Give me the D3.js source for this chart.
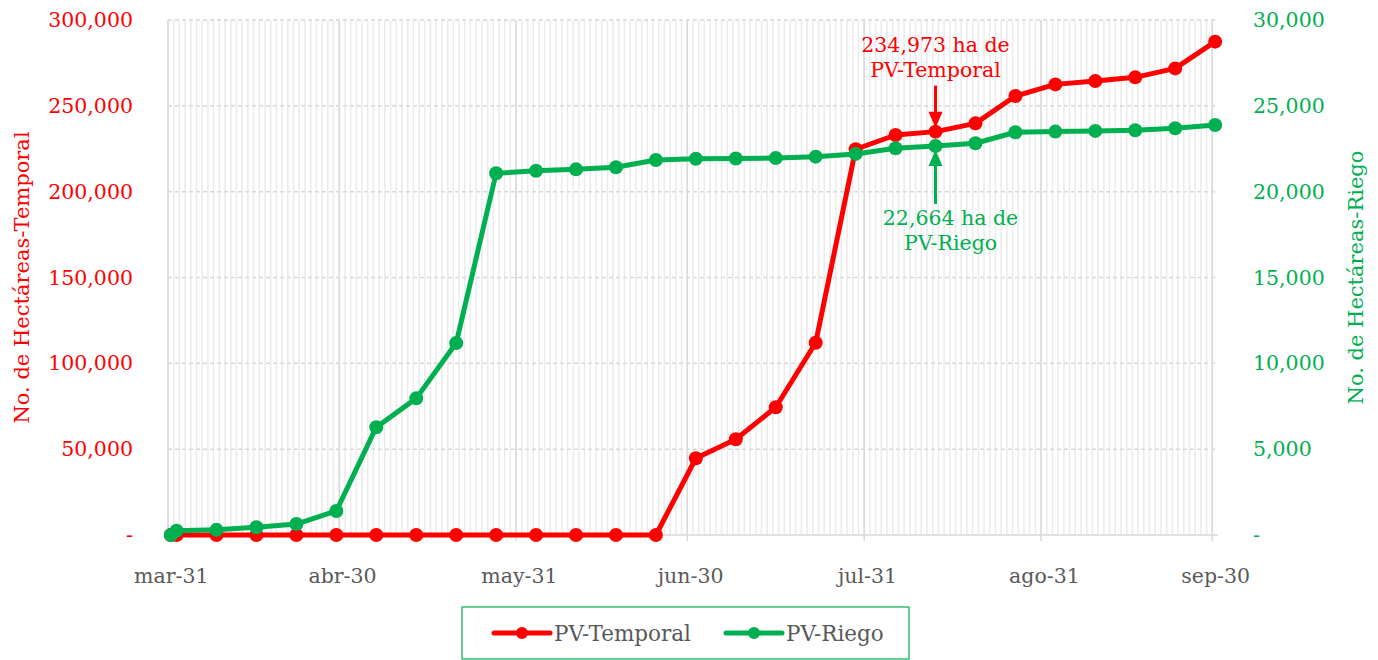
<!DOCTYPE html>
<html>
<head>
<meta charset="utf-8">
<script src="https://cdn.jsdelivr.net/npm/d3@7"></script>
<style>
  body { margin: 0; background: #fff; }
  svg { font-family: "DejaVu Serif", serif; }
</style>
</head>
<body>
<div id="chart"></div>
<script>
// fechas de corte (semanales)
var fechas = ['2020-03-31','2020-04-01','2020-04-08','2020-04-15','2020-04-22','2020-04-29',
  '2020-05-06','2020-05-13','2020-05-20','2020-05-27','2020-06-03','2020-06-10','2020-06-17',
  '2020-06-24','2020-07-01','2020-07-08','2020-07-15','2020-07-22','2020-07-29','2020-08-05',
  '2020-08-12','2020-08-19','2020-08-26','2020-09-02','2020-09-09','2020-09-16','2020-09-23',
  '2020-09-30'];

var temporal = [0, 0, 0, 0, 0, 0, 0, 0, 0, 0, 0, 0, 0, 0,
  44700, 55800, 74400, 112000, 224700, 233000, 234973, 239800, 255700, 262500,
  264500, 266600, 271800, 287400];

var riego = [0, 250, 300, 450, 640, 1400, 6280, 7960, 11180, 21070, 21220, 21300, 21420,
  21845, 21920, 21930, 21960, 22040, 22200, 22530, 22664, 22820, 23460, 23500,
  23540, 23575, 23690, 23880];

var tickFechas = ['2020-03-31','2020-04-30','2020-05-31','2020-06-30','2020-07-31','2020-08-31','2020-09-30'];
var tickLabels = ['mar-31','abr-30','may-31','jun-30','jul-31','ago-31','sep-30'];

var series = [
  {name: 'PV-Temporal', values: temporal, color: '#ff0000', axis: 'left'},
  {name: 'PV-Riego', values: riego, color: '#00b050', axis: 'right'}
];

var width = 1378, height = 660,
  margin = {left: 168, right: 160, top: 20, bottom: 125};

var parse = d3.timeParse('%Y-%m-%d');
var mid = function(d) { return d3.timeHour.offset(d, 12); };

var svg = d3.select('#chart').append('svg')
  .attr('width', width)
  .attr('height', height);

var start = parse(fechas[0]);
var end = d3.timeDay.offset(parse(fechas[fechas.length - 1]), 1);

var x = d3.scaleTime()
  .domain([start, end])
  .range([margin.left, width - margin.right]);

var yL = d3.scaleLinear().domain([0, 300000]).range([height - margin.bottom, margin.top]);
var yR = d3.scaleLinear().domain([0, 30000]).range([height - margin.bottom, margin.top]);

var fmt = d3.format(',');

// rejilla diaria
svg.append('g').selectAll('line')
  .data(d3.timeDay.range(start, end))
  .enter().append('line')
  .attr('x1', function(d) { return x(d); })
  .attr('x2', function(d) { return x(d); })
  .attr('y1', yL(300000))
  .attr('y2', yL(0))
  .attr('stroke', '#ececec')
  .attr('stroke-width', 1.6);

// rejilla horizontal
svg.append('g').selectAll('line')
  .data(yL.ticks(6).filter(function(d) { return d > 0; }))
  .enter().append('line')
  .attr('x1', x.range()[0])
  .attr('x2', x.range()[1])
  .attr('y1', function(d) { return yL(d); })
  .attr('y2', function(d) { return yL(d); })
  .attr('stroke', '#d9d9d9')
  .attr('stroke-width', 1.5)
  .attr('stroke-dasharray', '4,3');

// rejilla mensual
svg.append('g').selectAll('line')
  .data(tickFechas.map(parse))
  .enter().append('line')
  .attr('x1', function(d) { return x(d); })
  .attr('x2', function(d) { return x(d); })
  .attr('y1', yL(300000))
  .attr('y2', yL(0) + 6)
  .attr('stroke', '#d9d9d9')
  .attr('stroke-width', 1.5);

svg.append('line')
  .attr('x1', x.range()[0]).attr('x2', x.range()[1])
  .attr('y1', yL(0)).attr('y2', yL(0))
  .attr('stroke', '#d9d9d9')
  .attr('stroke-width', 1.5);

// eje x
var xAxis = svg.append('g')
  .attr('transform', 'translate(0,' + yL(0) + ')')
  .call(d3.axisBottom(x)
    .tickValues(tickFechas.map(function(f) { return mid(parse(f)); }))
    .tickFormat(function(d, i) { return tickLabels[i]; })
    .tickSize(0)
    .tickPadding(33));
xAxis.select('.domain').remove();
xAxis.selectAll('text')
  .attr('fill', '#595959')
  .style('font-size', '20.5px')
  .style('font-family', '"DejaVu Serif", serif');

// ejes y
function yFormat(d) { return d === 0 ? '-' : fmt(d); }

var leftAxis = svg.append('g')
  .attr('transform', 'translate(' + (margin.left - 32) + ',0)')
  .call(d3.axisLeft(yL).ticks(6).tickFormat(yFormat).tickSize(0));
leftAxis.select('.domain').remove();
leftAxis.selectAll('text')
  .attr('fill', '#ff0000')
  .style('font-size', '20.5px')
  .style('font-family', '"DejaVu Serif", serif');

var rightAxis = svg.append('g')
  .attr('transform', 'translate(' + (width - margin.right + 32) + ',0)')
  .call(d3.axisRight(yR).ticks(6).tickFormat(yFormat).tickSize(0));
rightAxis.select('.domain').remove();
rightAxis.selectAll('text')
  .attr('fill', '#00b050')
  .style('font-size', '20.5px')
  .style('font-family', '"DejaVu Serif", serif');

// titulos de ejes
svg.append('text')
  .attr('transform', 'translate(29,' + yL(150000) + ') rotate(-90)')
  .attr('text-anchor', 'middle')
  .attr('fill', '#ff0000')
  .style('font-size', '21px')
  .text('No. de Hectáreas-Temporal');

svg.append('text')
  .attr('transform', 'translate(1363,' + yL(150000) + ') rotate(-90)')
  .attr('text-anchor', 'middle')
  .attr('fill', '#00b050')
  .style('font-size', '21px')
  .text('No. de Hectáreas-Riego');

// series
series.forEach(function(s) {
  var y = s.axis === 'left' ? yL : yR;
  var pts = fechas.map(function(f, i) { return {date: mid(parse(f)), value: s.values[i]}; });
  var line = d3.line()
    .x(function(d) { return x(d.date); })
    .y(function(d) { return y(d.value); });
  var g = svg.append('g');
  g.append('path')
    .datum(pts)
    .attr('d', line)
    .attr('fill', 'none')
    .attr('stroke', s.color)
    .attr('stroke-width', 5)
    .attr('stroke-linejoin', 'round');
  g.selectAll('circle')
    .data(pts)
    .enter().append('circle')
    .attr('cx', function(d) { return x(d.date); })
    .attr('cy', function(d) { return y(d.value); })
    .attr('r', 7)
    .attr('fill', s.color);
});

// anotaciones
var idx = 20;
var aX = x(mid(parse(fechas[idx])));

function arrow(color, y1, y2) {
  var dir = y2 > y1 ? 1 : -1;
  svg.append('line')
    .attr('x1', aX).attr('x2', aX)
    .attr('y1', y1).attr('y2', y2 - dir * 14)
    .attr('stroke', color)
    .attr('stroke-width', 3);
  svg.append('path')
    .attr('d', 'M' + (aX - 7) + ',' + (y2 - dir * 16) + 'L' + (aX + 7) + ',' + (y2 - dir * 16) + 'L' + aX + ',' + y2 + 'Z')
    .attr('fill', color);
}

var yT = yL(temporal[idx]);
arrow('#ff0000', yT - 46, yT - 4);
var tT = svg.append('text')
  .attr('text-anchor', 'middle')
  .attr('fill', '#ff0000')
  .style('font-size', '20.5px');
tT.append('tspan').attr('x', aX).attr('y', 52).text(fmt(temporal[idx]) + ' ha de');
tT.append('tspan').attr('x', aX).attr('y', 77).text('PV-Temporal');

var yG = yR(riego[idx]);
arrow('#00b050', yG + 58, yG + 4);
var tG = svg.append('text')
  .attr('text-anchor', 'middle')
  .attr('fill', '#00b050')
  .style('font-size', '20.5px');
tG.append('tspan').attr('x', aX + 15).attr('y', 225).text(fmt(riego[idx]) + ' ha de');
tG.append('tspan').attr('x', aX + 15).attr('y', 250).text('PV-Riego');

// leyenda
var legend = svg.append('g').attr('transform', 'translate(462,607)');
legend.append('rect')
  .attr('width', 447).attr('height', 52)
  .attr('fill', '#fff')
  .attr('stroke', '#00b050')
  .attr('stroke-width', 1.2);

var lx = [32, 264];
series.forEach(function(s, i) {
  var item = legend.append('g').attr('transform', 'translate(' + lx[i] + ',26)');
  item.append('line')
    .attr('x1', 0).attr('x2', 56)
    .attr('stroke', s.color)
    .attr('stroke-width', 5)
    .attr('stroke-linecap', 'round');
  item.append('circle').attr('cx', 28).attr('r', 6).attr('fill', s.color);
  item.append('text')
    .attr('x', 60).attr('dy', '0.35em')
    .attr('fill', '#595959')
    .style('font-size', '21.5px')
    .text(s.name);
});
</script>
</body>
</html>
